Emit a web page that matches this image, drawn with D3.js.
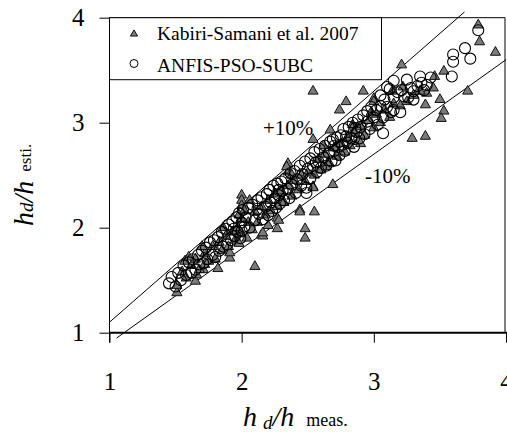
<!DOCTYPE html>
<html><head><meta charset="utf-8">
<script src="https://cdn.jsdelivr.net/npm/d3@7"></script>
<style>
html,body{margin:0;padding:0;background:#fff;}
svg text{font-family:"Liberation Serif","Times New Roman",serif;fill:#000;}
</style></head>
<body>
<svg id="chart" width="507" height="436"></svg>
<script>
// ---- data ----
const xTicks = [1, 2, 3, 4];
const yTicks = [1, 2, 3, 4];
const seriesNames = ["Kabiri-Samani et al. 2007", "ANFIS-PSO-SUBC"];
const bandLabels = ["+10%", "-10%"];

// Kabiri-Samani et al. 2007 : [measured, estimated]
const kabiri = [
 [1.51,1.38],[1.51,1.45],[1.57,1.68],[1.65,1.49],[1.66,1.55],[1.71,1.60],[1.72,1.65],[1.82,1.61],
 [1.91,1.71],[1.91,1.76],[2.00,2.31],[2.00,2.26],[2.00,2.21],[2.35,2.61],[2.35,2.53],[2.44,2.17],
 [2.48,1.90],[2.27,1.99],[2.27,2.09],[2.15,1.93],[2.30,2.25],[2.54,3.30],[2.92,3.30],[2.79,3.20],
 [2.74,3.12],[3.00,3.23],[3.00,3.20],[2.67,2.93],[2.54,2.84],[2.34,2.58],[2.64,2.58],[3.79,3.93],
 [3.80,3.77],[3.92,3.67],[3.21,3.55],[3.53,3.49],[3.46,3.44],[3.45,3.33],[3.40,3.28],[3.71,3.30],
 [3.50,3.22],[3.39,3.17],[3.53,3.11],[3.51,3.04],[3.29,2.85],[3.39,2.87],[2.54,2.39],[2.69,2.41],
 [2.10,1.63],[2.16,1.92],[2.16,1.95],[2.28,2.07],[2.44,2.15],[2.55,2.15],[2.48,1.99],[2.54,2.38],
 [1.55,1.58],[1.58,1.52],[1.62,1.64],[1.65,1.70],[1.68,1.60],[1.72,1.75],[1.75,1.68],[1.78,1.82],
 [1.80,1.70],[1.83,1.86],[1.85,1.78],[1.88,1.92],[1.90,1.82],[1.93,1.96],[1.95,1.88],[1.97,2.00],
 [1.98,1.85],[2.00,2.08],[2.00,1.94],[2.02,2.16],[2.05,2.05],[2.08,1.98],[2.10,2.15],[2.12,2.05],
 [2.15,2.20],[2.18,2.12],[2.20,2.26],[2.22,2.16],[2.25,2.32],[2.27,2.20],[2.30,2.35],[2.32,2.24],
 [2.35,2.40],[2.38,2.30],[2.40,2.45],[2.43,2.36],[2.45,2.50],[2.48,2.44],[2.50,2.52],[2.55,2.50],
 [2.58,2.65],[2.60,2.55],[2.63,2.70],[2.66,2.62],[2.70,2.76],[2.72,2.68],[2.75,2.80],[2.78,2.72],
 [2.80,2.86],[2.82,2.78],[2.85,2.90],[2.88,2.82],[2.90,2.96],[2.93,2.88],[2.96,3.02],[3.00,2.95],
 [3.02,3.08],[3.05,3.00],[3.08,3.12],[3.12,3.05],[3.15,3.18],[3.20,3.16],[3.25,3.20],[3.30,3.26],
 [3.35,3.30],[1.60,1.72],[1.70,1.82],[1.86,2.00],[2.06,2.26],[2.20,2.02],[2.38,2.50],[2.62,2.78],
 [2.84,2.98],[2.98,3.10],[3.14,3.30],[3.22,3.34],[1.98,2.12],[2.04,1.90],[2.90,2.80]
];

// ANFIS-PSO-SUBC : [measured, estimated]
const anfis = [
 [1.45,1.47],[1.47,1.53],[1.50,1.44],[1.52,1.57],[1.54,1.50],[1.56,1.64],[1.58,1.55],[1.60,1.67],
 [1.62,1.57],[1.63,1.70],[1.65,1.60],[1.67,1.74],[1.68,1.65],[1.70,1.78],[1.71,1.66],[1.73,1.81],
 [1.74,1.70],[1.76,1.86],[1.78,1.74],[1.79,1.88],[1.80,1.72],[1.82,1.91],[1.83,1.78],[1.85,1.96],
 [1.86,1.82],[1.88,1.99],[1.89,1.84],[1.90,2.03],[1.92,1.88],[1.93,2.06],[1.95,1.92],[1.96,2.10],
 [1.97,1.96],[1.98,2.14],[1.99,1.90],[2.00,2.05],[2.00,1.97],[2.01,2.17],[2.02,2.01],[2.03,2.10],
 [2.05,2.19],[2.06,2.00],[2.08,2.22],[2.10,2.07],[2.12,2.26],[2.13,2.13],[2.15,2.29],[2.16,2.08],
 [2.18,2.20],[2.19,2.32],[2.20,2.12],[2.21,2.36],[2.22,2.24],[2.23,2.16],[2.24,2.40],[2.25,2.28],
 [2.26,2.19],[2.27,2.42],[2.28,2.31],[2.29,2.23],[2.30,2.44],[2.31,2.35],[2.32,2.26],[2.33,2.47],
 [2.35,2.37],[2.36,2.28],[2.37,2.52],[2.38,2.41],[2.40,2.54],[2.41,2.33],[2.42,2.46],[2.44,2.59],
 [2.45,2.40],[2.46,2.51],[2.48,2.63],[2.49,2.38],[2.49,2.33],[2.12,2.18],[2.28,2.36],[1.94,1.99],
 [2.50,2.56],[2.52,2.66],[2.52,2.47],[2.54,2.59],[2.55,2.72],[2.57,2.53],[2.58,2.63],[2.59,2.75],
 [2.60,2.57],[2.62,2.67],[2.63,2.78],[2.64,2.59],[2.66,2.71],[2.67,2.82],[2.68,2.63],[2.69,2.84],
 [2.70,2.73],[2.71,2.64],[2.72,2.86],[2.73,2.77],[2.74,2.69],[2.75,2.88],[2.76,2.79],[2.77,2.94],
 [2.78,2.73],[2.79,2.87],[2.80,2.81],[2.81,2.96],[2.83,2.85],[2.84,3.00],[2.85,2.77],[2.87,2.91],
 [2.88,3.03],[2.89,2.85],[2.90,2.96],[2.92,3.07],[2.93,2.89],[2.95,3.01],[2.95,3.11],[2.97,2.94],
 [2.98,3.15],[3.00,3.05],[2.56,2.62],[2.70,2.78],[2.86,2.95],
 [3.02,3.12],[3.03,2.98],[3.05,3.16],[3.07,3.05],[3.07,2.90],[3.08,3.22],[3.10,3.15],[3.10,3.34],
 [3.12,3.32],[3.13,3.10],[3.15,3.24],[3.15,3.12],[3.18,3.29],[3.20,3.10],[3.21,3.31],[3.23,3.25],
 [3.25,3.41],[3.26,3.24],[3.28,3.33],[3.30,3.22],[3.30,3.30],[3.33,3.35],[3.35,3.44],[3.36,3.38],
 [3.38,3.31],[3.40,3.36],[3.43,3.43],[3.59,3.44],[3.60,3.65],[3.60,3.58],[3.69,3.71],[3.73,3.61],
 [3.79,3.88],[3.15,3.40],[3.05,3.26]
];

// +/-10% lines: [x, y] end points
const upperLine = [[1.0, 1.1], [3.686, 4.055]];
const lowerLine = [[1.054, 0.949], [4.0, 3.6]];

// ---- drawing ----
const svg = d3.select("#chart");
const x = d3.scaleLinear().domain([1, 4]).range([109.5, 506]);
const y = d3.scaleLinear().domain([1, 4]).range([332.7, 17.7]);

// frame top & right
svg.append("line").attr("x1", x(1)).attr("x2", x(4)-1).attr("y1", y(4)).attr("y2", y(4))
  .attr("stroke", "#000").attr("stroke-width", 1);
svg.append("line").attr("x1", x(4)-1).attr("x2", x(4)-1).attr("y1", y(4)).attr("y2", y(1))
  .attr("stroke", "#000").attr("stroke-width", 1);

// reference lines
const lineGen = d3.line().x(d => x(d[0])).y(d => y(d[1]));
[upperLine, lowerLine].forEach(l => {
  svg.append("path").attr("d", lineGen(l)).attr("fill", "none")
    .attr("stroke", "#000").attr("stroke-width", 1);
});

// triangles
const triPath = d3.symbol().type(d3.symbolTriangle).size(44)();
svg.append("g").selectAll("path").data(kabiri).join("path")
  .attr("d", triPath)
  .attr("transform", d => `translate(${x(d[0])},${y(d[1])})`)
  .attr("fill", "#7a7a7a").attr("stroke", "#111").attr("stroke-width", 1);

// circles
svg.append("g").selectAll("circle").data(anfis).join("circle")
  .attr("cx", d => x(d[0])).attr("cy", d => y(d[1])).attr("r", 5.5)
  .attr("fill", "none").attr("stroke", "#000").attr("stroke-width", 1.1);

// axes
const yAxis = d3.axisLeft(y).tickValues(yTicks).tickSize(10).tickPadding(15).tickFormat(d3.format("d"));
const gy = svg.append("g").attr("transform", `translate(${x(1)},0)`).call(yAxis);
gy.select(".domain").remove();
gy.selectAll("line").attr("stroke", "#000");
gy.selectAll("text").style("font-size", "25px");

const xAxis = d3.axisBottom(x).tickValues(xTicks).tickSize(10).tickPadding(30).tickFormat(d3.format("d"));
const gx = svg.append("g").attr("transform", `translate(0,${y(1)})`).call(xAxis);
gx.select(".domain").remove();
gx.selectAll("line").attr("stroke", "#000");
gx.selectAll("text").style("font-size", "25px");

// axis lines
svg.append("line").attr("x1", x(1)).attr("x2", x(1)).attr("y1", y(4)).attr("y2", y(1) + 10)
  .attr("stroke", "#000").attr("stroke-width", 1);
svg.append("line").attr("x1", x(1)).attr("x2", 507).attr("y1", y(1)).attr("y2", y(1))
  .attr("stroke", "#000").attr("stroke-width", 2);

// legend
const lg = svg.append("g");
lg.append("rect").attr("x", x(1)).attr("y", y(4)).attr("width", 272).attr("height", 62)
  .attr("fill", "#fff").attr("stroke", "#000").attr("stroke-width", 1);
lg.append("path").attr("d", d3.symbol().type(d3.symbolTriangle).size(22)())
  .attr("transform", `translate(134,34)`).attr("fill", "#7a7a7a").attr("stroke", "#111");
lg.append("circle").attr("cx", 134).attr("cy", 63.5).attr("r", 4)
  .attr("fill", "none").attr("stroke", "#000");
lg.append("text").attr("x", 157).attr("y", 40).style("font-size", "19.5px").text(seriesNames[0]);
lg.append("text").attr("x", 157).attr("y", 71.5).style("font-size", "19.5px").text(seriesNames[1]);

// band labels
svg.append("text").attr("x", 263).attr("y", 135).style("font-size", "21px").text(bandLabels[0]);
svg.append("text").attr("x", 365).attr("y", 183).style("font-size", "21px").text(bandLabels[1]);

// x title
const xt = svg.append("text").attr("x", 243).attr("y", 426);
xt.append("tspan").style("font-style", "italic").style("font-size", "28px").text("h");
xt.append("tspan").style("font-style", "italic").style("font-size", "19px").attr("dx", 6).attr("dy", 3).text("d");
xt.append("tspan").style("font-style", "italic").style("font-size", "28px").attr("dy", -3).text("/h");
xt.append("tspan").style("font-size", "18px").attr("dx", 12).text("meas.");

// y title
const yt = svg.append("text").attr("transform", "translate(33,226) rotate(-90)");
yt.append("tspan").style("font-style", "italic").style("font-size", "28px").text("h");
yt.append("tspan").style("font-style", "italic").style("font-size", "19px").text("d");
yt.append("tspan").style("font-style", "italic").style("font-size", "28px").text("/h");
yt.append("tspan").style("font-size", "17px").attr("dx", 9).attr("dy", -2).text("esti.");
</script>
</body></html>
